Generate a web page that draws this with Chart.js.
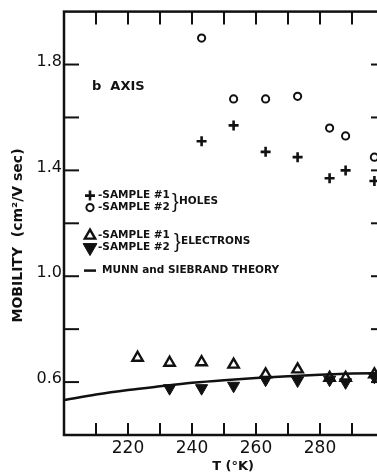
<!DOCTYPE html>
<html><head><meta charset="utf-8">
<script src="https://cdn.jsdelivr.net/npm/chart.js@4.4.1/dist/chart.umd.min.js"></script>
<style>
html,body{margin:0;padding:0;background:#fff;overflow:hidden;width:377px;height:474px}
#wrap{width:377px;height:474px;overflow:hidden;position:relative}
canvas{display:block}
</style>
</head><body><div id="wrap"><canvas id="c" width="395" height="474"></canvas></div>
<script>
// ---- data ----
const holeT1 = [243, 253, 263, 273, 283, 288, 297];
const holeMu1 = [1.51, 1.57, 1.47, 1.45, 1.37, 1.40, 1.36];
const holeT2 = [243, 253, 263, 273, 283, 288, 297];
const holeMu2 = [1.90, 1.67, 1.67, 1.68, 1.56, 1.53, 1.45];
const elecT1 = [223, 233, 243, 253, 263, 273, 283, 288, 297];
const elecMu1 = [0.692, 0.673, 0.675, 0.666, 0.629, 0.648, 0.616, 0.616, 0.629];
const elecT2 = [233, 243, 253, 263, 273, 283, 288, 297];
const elecMu2 = [0.577, 0.577, 0.586, 0.609, 0.606, 0.609, 0.599, 0.620];
const theoryT = [200, 210, 220, 230, 240, 250, 260, 270, 280, 290, 300];
const theoryMu = [0.532, 0.553, 0.570, 0.584, 0.597, 0.607, 0.615, 0.622, 0.628, 0.632, 0.634];
const xLabelValues = [220, 240, 260, 280];
const yLabelValues = [0.6, 1.0, 1.4, 1.8];
const seriesNames = ['-SAMPLE #1', '-SAMPLE #2', '-SAMPLE #1', '-SAMPLE #2'];
const groupNames = ['HOLES', 'ELECTRONS'];
const theoryName = 'MUNN and SIEBRAND THEORY';
const panelTitle = 'b  AXIS';
const xTitle = 'T (°K)';
const yTitle = 'MOBILITY  (cm²/V sec)';

const pts = (xs, ys) => xs.map((v, i) => ({x: v, y: ys[i]}));
const INK = '#111';

const styles = [
  {pointStyle: 'cross', radius: 5, borderWidth: 2.6, rotation: 0, fill: false},
  {pointStyle: 'circle', radius: 3.6, borderWidth: 2, rotation: 0, fill: false},
  {pointStyle: 'triangle', radius: 6, borderWidth: 2.4, rotation: 0, fill: false},
  {pointStyle: 'triangle', radius: 7, borderWidth: 1, rotation: 180, fill: true}
];

function ds(label, data, st) {
  return {
    type: 'scatter', label, data,
    pointStyle: st.pointStyle, pointRadius: st.radius, pointRotation: st.rotation,
    pointBorderWidth: st.borderWidth, pointBorderColor: INK,
    pointBackgroundColor: st.fill ? INK : 'rgba(255,255,255,0)',
    pointHoverRadius: st.radius, showLine: false, clip: false
  };
}

const decor = {
  id: 'decor',
  afterDatasetsDraw(chart) {
    const {ctx, chartArea: a, scales: {x, y}} = chart;
    ctx.save();
    ctx.strokeStyle = INK; ctx.fillStyle = INK;
    ctx.lineCap = 'butt';
    // frame
    ctx.lineWidth = 2.5;
    ctx.strokeRect(a.left, a.top, a.right - a.left, a.bottom - a.top);
    // inward ticks
    ctx.lineWidth = 2;
    const seg = (x1, y1, x2, y2) => { ctx.beginPath(); ctx.moveTo(x1, y1); ctx.lineTo(x2, y2); ctx.stroke(); };
    x.ticks.forEach(t => {
      if (t.value <= x.min || t.value >= x.max) return;
      const px = x.getPixelForValue(t.value);
      seg(px, a.bottom, px, a.bottom - 12);
      seg(px, a.top, px, a.top + 13);
    });
    y.ticks.forEach(t => {
      if (t.value <= y.min + 1e-9 || t.value >= y.max - 1e-9) return;
      const py = y.getPixelForValue(t.value);
      seg(a.left, py, a.left + 15, py);
      seg(a.right, py, a.right - 13, py);
    });
    // panel title
    ctx.textBaseline = 'middle'; ctx.textAlign = 'left';
    ctx.font = 'bold 13px "DejaVu Sans"';
    ctx.fillText(panelTitle, a.left + 28, a.top + 75);
    // legend block
    const lx = a.left + 26;          // symbol centre
    const tx = a.left + 34;          // text start
    const rows = [a.top + 184, a.top + 196, a.top + 224, a.top + 236];
    const legendStyles = [
      {pointStyle: 'cross', radius: 5, borderWidth: 2.6, rotation: 0, fill: false},
      {pointStyle: 'circle', radius: 3.6, borderWidth: 2, rotation: 0, fill: false},
      {pointStyle: 'triangle', radius: 6, borderWidth: 2.4, rotation: 0, fill: false},
      {pointStyle: 'triangle', radius: 8, borderWidth: 1, rotation: 180, fill: true}
    ];
    rows.forEach((ry, i) => {
      const st = legendStyles[i];
      ctx.save();
      ctx.fillStyle = st.fill ? INK : '#fff';
      ctx.strokeStyle = INK;
      ctx.lineWidth = st.borderWidth;
      Chart.helpers.drawPoint(ctx, {pointStyle: st.pointStyle, radius: st.radius, rotation: st.rotation, borderWidth: st.borderWidth}, lx, ry);
      ctx.restore();
      ctx.font = 'bold 10.5px "DejaVu Sans"';
      ctx.fillText(seriesNames[i], tx, ry);
    });
    // braces + group names
    ctx.font = '20px "Liberation Sans"';
    ctx.fillText('}', a.left + 108, (rows[0] + rows[1]) / 2 + 1);
    ctx.fillText('}', a.left + 110, (rows[2] + rows[3]) / 2 + 1);
    ctx.font = 'bold 10.5px "DejaVu Sans"';
    ctx.fillText(groupNames[0], a.left + 115, (rows[0] + rows[1]) / 2);
    ctx.fillText(groupNames[1], a.left + 117, (rows[2] + rows[3]) / 2);
    // theory legend
    const ty = a.top + 259;
    ctx.lineWidth = 2.5;
    seg(a.left + 20, ty, a.left + 32, ty);
    ctx.fillText(theoryName, a.left + 38, ty);
    ctx.restore();
  }
};

new Chart(document.getElementById('c'), {
  type: 'scatter',
  data: {
    datasets: [
      ds('Holes sample #1', pts(holeT1, holeMu1), styles[0]),
      ds('Holes sample #2', pts(holeT2, holeMu2), styles[1]),
      ds('Electrons sample #1', pts(elecT1, elecMu1), styles[2]),
      ds('Electrons sample #2', pts(elecT2, elecMu2), styles[3]),
      {
        type: 'line', label: theoryName, data: pts(theoryT, theoryMu),
        borderColor: INK, borderWidth: 2.5, pointRadius: 0, fill: false,
        cubicInterpolationMode: 'monotone', showLine: true, clip: false
      }
    ]
  },
  options: {
    responsive: false, animation: false, devicePixelRatio: 1,
    layout: {padding: {top: 11, right: 11, left: 0, bottom: 0}},
    plugins: {legend: {display: false}, tooltip: {enabled: false}},
    events: [],
    scales: {
      x: {
        type: 'linear', min: 200, max: 300,
        afterFit: s => { s.height = 39; },
        grid: {display: false, drawTicks: false},
        border: {display: false},
        ticks: {
          stepSize: 10, autoSkip: false, maxRotation: 0, padding: 3,
          color: INK, font: {family: 'DejaVu Sans', size: 17},
          callback: v => xLabelValues.includes(v) ? String(v) : ''
        },
        title: {display: true, text: '    ' + xTitle, color: INK,
          font: {family: 'DejaVu Sans', size: 13, weight: 'bold'}, padding: {top: 0, bottom: 0}}
      },
      y: {
        type: 'linear', min: 0.4, max: 2.0,
        afterFit: s => { s.width = 64; },
        grid: {display: false, drawTicks: false},
        border: {display: false},
        ticks: {
          stepSize: 0.2, autoSkip: false, padding: 2, labelOffset: -3,
          color: INK, font: {family: 'DejaVu Sans', size: 16},
          callback: v => yLabelValues.some(l => Math.abs(l - v) < 1e-6) ? v.toFixed(1) : ''
        },
        title: {display: true, text: yTitle + '     ', color: INK,
          font: {family: 'DejaVu Sans', size: 14, weight: 'bold'}, padding: {top: 10, bottom: 0}}
      }
    }
  },
  plugins: [decor]
});
</script>
</body></html>
